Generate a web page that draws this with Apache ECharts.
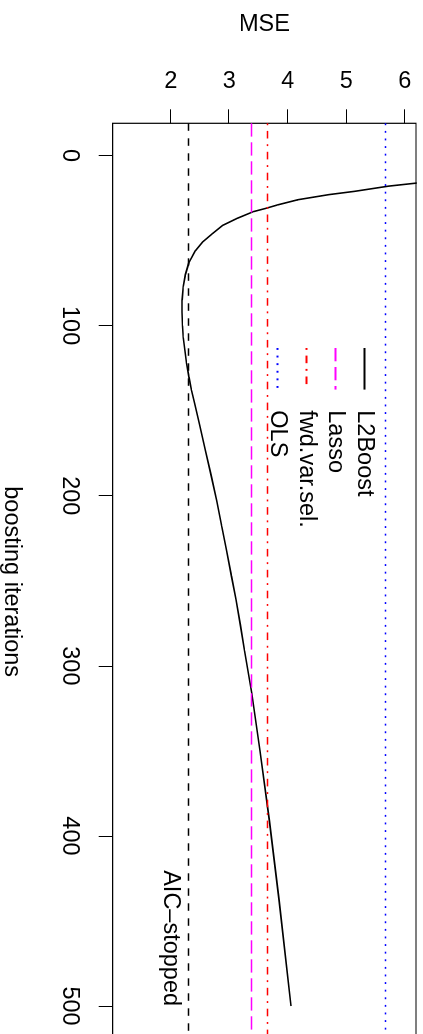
<!DOCTYPE html>
<html>
<head>
<meta charset="utf-8">
<script src="https://cdn.jsdelivr.net/npm/echarts@6/dist/echarts.min.js"></script>
<style>
html,body{margin:0;padding:0;background:#fff;overflow:hidden;width:423px;height:1034px;}
#c{position:absolute;left:0;top:0;width:1040px;height:423px;transform-origin:0 0;transform:translateX(423px) rotate(90deg);}
</style>
</head>
<body>
<div id="c"></div>
<script>
// boosting iterations and L2Boost test MSE
const iterations = [14, 16, 18, 21, 23, 26, 29, 31, 33, 37, 41, 46, 51, 56, 63, 70, 77, 85, 92, 100, 107, 115, 122, 130, 138, 146, 158, 173, 188, 203, 218, 232, 247, 261, 276, 291, 316, 350, 391, 438, 500];
const l2boostMSE = [6.78, 6.25, 5.72, 5.15, 4.70, 4.17, 3.83, 3.63, 3.41, 3.13, 2.89, 2.71, 2.54, 2.42, 2.31, 2.25, 2.215, 2.195, 2.193, 2.20, 2.215, 2.245, 2.27, 2.31, 2.355, 2.41, 2.49, 2.59, 2.69, 2.786, 2.872, 2.954, 3.036, 3.116, 3.19, 3.261, 3.385, 3.527, 3.686, 3.852, 4.056];
// constant reference MSE levels
const aicStoppedMSE = 2.313;
const lassoMSE = 3.385;
const fwdVarSelMSE = 3.646;
const olsMSE = 5.677;
const aicLabelIteration = 500;
// tick labels
const xTicks = [0, 100, 200, 300, 400, 500];
const yTicks = [2, 3, 4, 5, 6];
const xRange = [-18.96, 519.96];
const yRange = [1.008, 6.192];

const FONT = "'Liberation Sans', Arial, Helvetica, sans-serif";
const FS = 23.5;

const chart = echarts.init(document.getElementById('c'), null, {renderer: 'canvas'});

function refSeries(name, value, color, dash, width) {
  const ls = {color: color, type: dash, width: width, opacity: 1};
  return {
    name: name, type: 'line', data: [], symbol: 'none',
    lineStyle: ls, itemStyle: {color: color, opacity: 0},
    markLine: {
      silent: true, symbol: ['none', 'none'], label: {show: false},
      lineStyle: ls, emphasis: {disabled: true},
      data: [{yAxis: value, lineStyle: ls}]
    }
  };
}

const option = {
  animation: false,
  backgroundColor: '#fff',
  textStyle: {fontFamily: FONT},
  grid: {left: 123.3, top: 7, width: 916.7, height: 303.3, show: true, borderColor: '#000', borderWidth: 1.2, backgroundColor: 'transparent',
    containLabel: false, outerBoundsMode: 'none'},
  xAxis: {
    type: 'value', min: xRange[0], max: xRange[1],
    axisLine: {show: false, onZero: false},
    splitLine: {show: false},
    axisTick: {show: true, length: 14, lineStyle: {color: '#000', width: 1}, customValues: xTicks},
    axisLabel: {show: true, customValues: xTicks, fontSize: FS, color: '#000', fontFamily: FONT, margin: 31.5},
    name: 'boosting iterations', nameLocation: 'middle', nameGap: 89,
    nameTextStyle: {fontSize: FS, color: '#000', fontFamily: FONT}
  },
  yAxis: {
    type: 'value', min: yRange[0], max: yRange[1],
    axisLine: {show: false, onZero: false},
    splitLine: {show: false},
    axisTick: {show: true, length: 14, lineStyle: {color: '#000', width: 1}, customValues: yTicks},
    axisLabel: {show: true, customValues: yTicks, rotate: 90, fontSize: FS, color: '#000', fontFamily: FONT, margin: 29.3},
    name: 'MSE', nameLocation: 'middle', nameGap: 87,
    nameTextStyle: {fontSize: FS, color: '#000', fontFamily: FONT}
  },
  legend: {
    orient: 'vertical', left: 347, top: 46.5, padding: 0,
    itemWidth: 41.6, itemHeight: 14, itemGap: 5,
    data: ['L2Boost', 'Lasso', 'fwd.var.sel.', 'OLS'],
    itemStyle: {opacity: 0, borderWidth: 0},
    textStyle: {fontSize: FS, color: '#000', fontFamily: FONT, padding: [0, 0, 0, 15.7]},
    selectedMode: false
  },
  series: [
    {
      name: 'L2Boost', type: 'line', symbol: 'none', smooth: false, clip: true,
      lineStyle: {color: '#000', width: 1.6}, itemStyle: {color: '#000', opacity: 0},
      data: iterations.map((it, i) => [it, l2boostMSE[i]])
    },
    refSeries('Lasso', lassoMSE, '#ff00ff', [13.3, 5.7], 1.3),
    refSeries('fwd.var.sel.', fwdVarSelMSE, '#ff0000', [1.9, 5.7, 7.6, 5.7], 1.3),
    refSeries('OLS', olsMSE, '#0000ff', [1.9, 5.7], 1.4),
    {
      name: 'AIC-stopped', type: 'line', data: [], symbol: 'none',
      lineStyle: {color: '#000', type: [7.5, 7.5], width: 1.3},
      markLine: {
        silent: true, symbol: ['none', 'none'], label: {show: false},
        lineStyle: {color: '#000', type: [7.5, 7.5], width: 1.3},
        data: [{yAxis: aicStoppedMSE}]
      }
    },
    {
      name: 'AIC label', type: 'scatter', symbolSize: 0, silent: true,
      itemStyle: {opacity: 1},
      data: [[aicLabelIteration, aicStoppedMSE]],
      label: {show: true, formatter: 'AIC–stopped', position: [0, 19], align: 'right', verticalAlign: 'middle',
        fontSize: FS, color: '#000', opacity: 1, fontFamily: FONT}
    }
  ]
};
chart.setOption(option);
</script>
</body>
</html>
